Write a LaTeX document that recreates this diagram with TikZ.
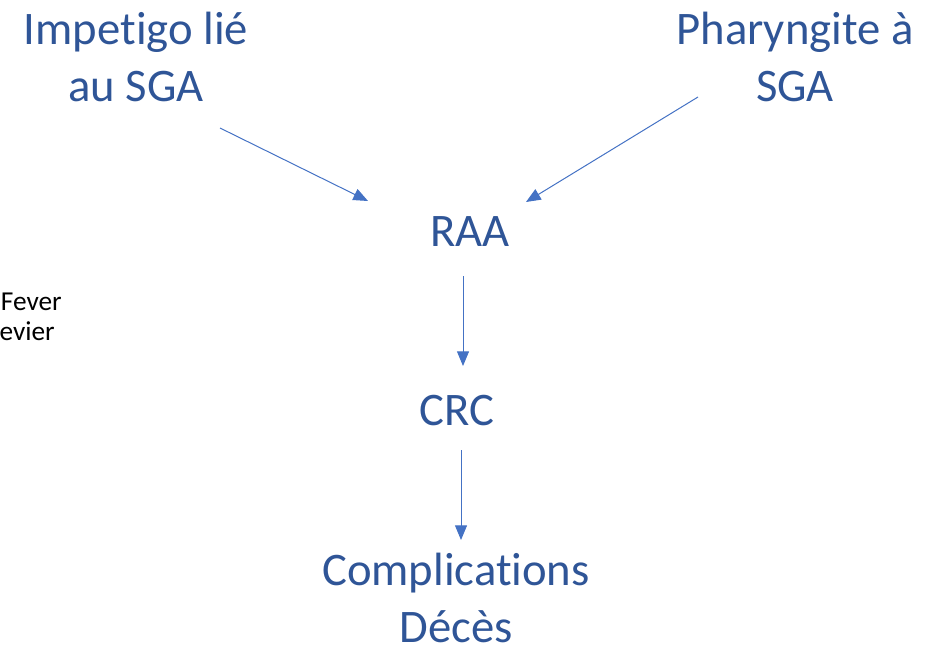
\documentclass[tikz,border=0pt]{standalone}
\usepackage{fontspec}
\setmainfont{Carlito}[Ligatures=NoCommon]
\usetikzlibrary{arrows.meta}
\definecolor{titleblue}{HTML}{2F5597}
\definecolor{arrowblue}{HTML}{4472C4}
\tikzset{
  big/.style={text=titleblue, font=\fontsize{35}{42.75}\selectfont, align=center, inner sep=0pt},
  small/.style={text=black, font=\fontsize{20.5}{23.5}\selectfont, inner sep=0pt},
  link/.style={draw=arrowblue, line width=0.75pt, -{Triangle[length=11pt,width=9pt]}}
}
\begin{document}
\begin{tikzpicture}[x=0.75pt,y=-0.75pt]
\useasboundingbox (0,0) rectangle (941,652);
\node[big, anchor=base] (imp) at (136,102) {Impetigo lié\\au SGA};
\node[big, anchor=base] (phar) at (795,102) {Pharyngite à\\SGA};
\node[big, anchor=base] (raa) at (470,247) {RAA};
\node[big, anchor=base] (crc) at (457,425) {CRC};
\node[big, anchor=base] (comp) at (456,642) {Complications\\Décès};
\node[small, anchor=base east] (fever) at (62,310) {Fever};
\node[small, anchor=base east] (evier) at (55,340) {evier};
% arrow ends
\coordinate (imp-out) at (220,128);
\coordinate (raa-left) at (368,201);
\coordinate (phar-out) at (698,97);
\coordinate (raa-right) at (526,202);
\coordinate (raa-out) at (463,276);
\coordinate (crc-in) at (463,366);
\coordinate (crc-out) at (461,450);
\coordinate (comp-in) at (461,540);
\draw[link] (imp-out) -- (raa-left);
\draw[link] (phar-out) -- (raa-right);
\draw[link] (raa-out) -- (crc-in);
\draw[link] (crc-out) -- (comp-in);
\end{tikzpicture}
\end{document}
